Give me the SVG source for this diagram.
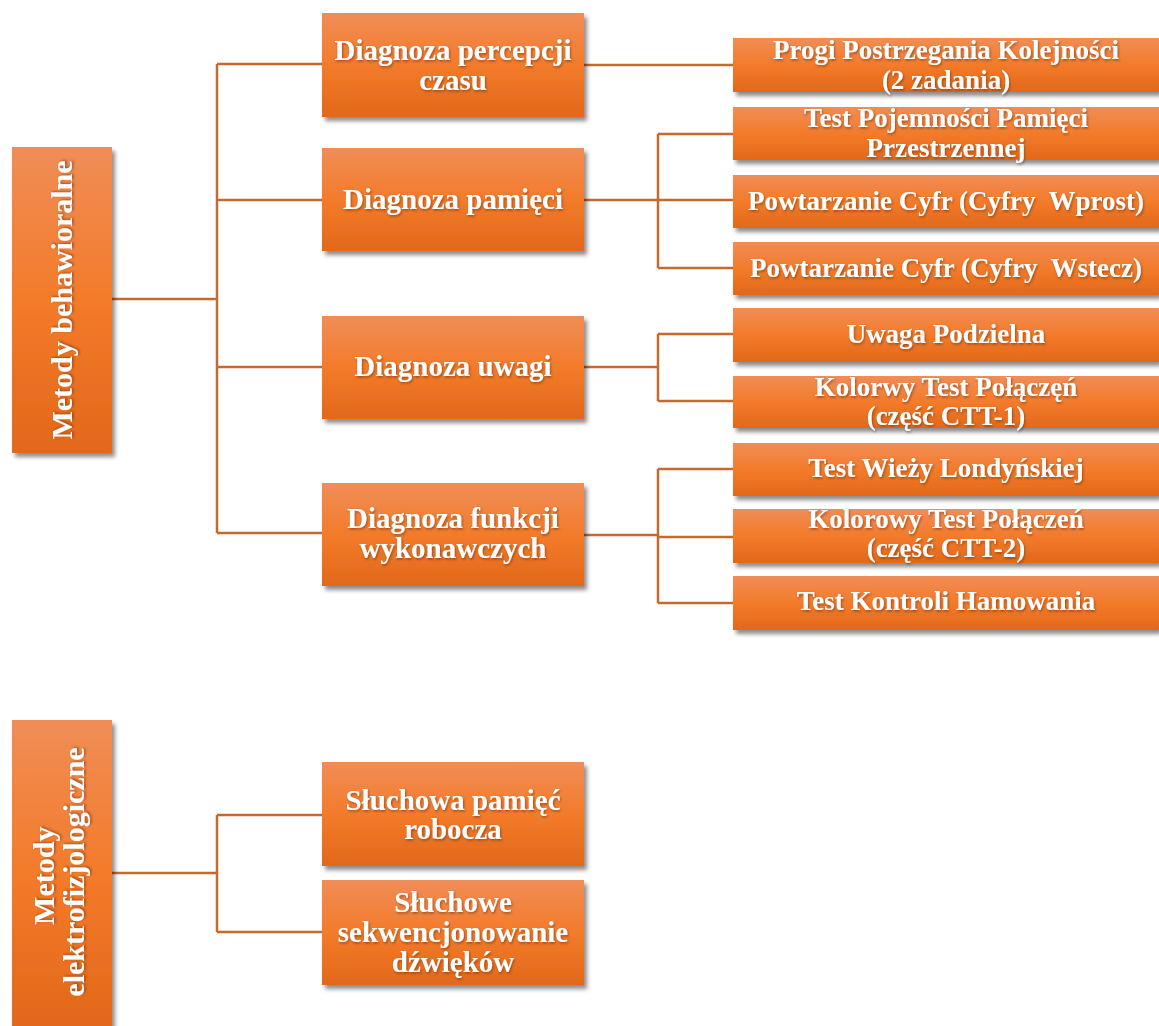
<svg xmlns="http://www.w3.org/2000/svg" width="1159" height="1026" viewBox="0 0 1159 1026">
  <defs>
    <linearGradient id="boxFill" x1="0" y1="0" x2="0" y2="1">
      <stop offset="0" stop-color="#f08d57"/>
      <stop offset="0.5" stop-color="#f37b2a"/>
      <stop offset="1" stop-color="#e2681a"/>
    </linearGradient>
    <filter id="shadow" x="-10%" y="-20%" width="130%" height="150%">
      <feDropShadow dx="3" dy="4" stdDeviation="2.2" flood-color="#000" flood-opacity="0.45"/>
    </filter>
    <filter id="textShadow" x="-5%" y="-20%" width="110%" height="150%">
      <feDropShadow dx="1" dy="1.5" stdDeviation="0.8" flood-color="#5a2a0a" flood-opacity="0.55"/>
    </filter>
  </defs>
  <style>
    .box { fill: url(#boxFill); filter: url(#shadow); }
    .lbl { font-family: "Liberation Serif", "Times New Roman", serif; font-weight: bold; fill: #ffffff; text-anchor: middle; filter: url(#textShadow); }
    .mid { font-size: 29px; }
    .leaf { font-size: 27px; }
    .root { font-size: 30px; }
    .wire { fill: none; stroke: #c5692f; stroke-width: 2.5; }
  </style>
  <rect width="1159" height="1026" fill="#ffffff"/>

  <!-- connectors -->
  <g id="connectors" class="wire">
    <!-- behavioural root to categories -->
    <path d="M112 299 H217"/>
    <path d="M217 64 V533"/>
    <path d="M217 64 H322 M217 200 H322 M217 367 H322 M217 533 H322"/>
    <!-- time perception -->
    <path d="M584 65 H733"/>
    <!-- memory -->
    <path d="M584 200 H733 M658 134 V268 M658 134 H733 M658 268 H733"/>
    <!-- attention -->
    <path d="M584 367 H658 M658 334 V401 M658 334 H733 M658 401 H733"/>
    <!-- executive functions -->
    <path d="M584 535 H658 M658 469 V603 M658 469 H733 M658 537 H733 M658 603 H733"/>
    <!-- electrophysiological root -->
    <path d="M112 873 H217 M217 815 V932 M217 815 H322 M217 932 H322"/>
  </g>

  <!-- roots -->
  <g id="root-behawioralne">
    <rect class="box" x="12" y="147" width="100" height="306"/>
    <text class="lbl root" transform="translate(72 300) rotate(-90)" x="0" y="0">Metody behawioralne</text>
  </g>
  <g id="root-elektrofizjologiczne">
    <rect class="box" x="12" y="720" width="100" height="306"/>
    <text class="lbl root" transform="translate(54 872) rotate(-90)">
      <tspan x="0" y="0">Metody</tspan>
      <tspan x="0" y="30">elektrofizjologiczne</tspan>
    </text>
  </g>

  <!-- categories -->
  <g id="cat-czas">
    <rect class="box" x="322" y="13" width="262" height="104"/>
    <text class="lbl mid"><tspan x="453" y="60">Diagnoza percepcji</tspan><tspan x="453" y="90">czasu</tspan></text>
  </g>
  <g id="cat-pamiec">
    <rect class="box" x="322" y="148" width="262" height="103"/>
    <text class="lbl mid" x="453" y="209">Diagnoza pamięci</text>
  </g>
  <g id="cat-uwaga">
    <rect class="box" x="322" y="316" width="262" height="103"/>
    <text class="lbl mid" x="453" y="376">Diagnoza uwagi</text>
  </g>
  <g id="cat-funkcje">
    <rect class="box" x="322" y="483" width="262" height="103"/>
    <text class="lbl mid"><tspan x="453" y="528">Diagnoza funkcji</tspan><tspan x="453" y="558">wykonawczych</tspan></text>
  </g>
  <g id="cat-sluchowa-pamiec">
    <rect class="box" x="322" y="762" width="262" height="104"/>
    <text class="lbl mid"><tspan x="453" y="810">Słuchowa pamięć</tspan><tspan x="453" y="839">robocza</tspan></text>
  </g>
  <g id="cat-sekwencjonowanie">
    <rect class="box" x="322" y="880" width="262" height="105"/>
    <text class="lbl mid"><tspan x="453" y="912">Słuchowe</tspan><tspan x="453" y="942">sekwencjonowanie</tspan><tspan x="453" y="972">dźwięków</tspan></text>
  </g>

  <!-- tests -->
  <g id="test-progi">
    <rect class="box" x="733" y="38" width="426" height="54"/>
    <text class="lbl leaf"><tspan x="946" y="59">Progi Postrzegania Kolejności</tspan><tspan x="946" y="89">(2 zadania)</tspan></text>
  </g>
  <g id="test-pojemnosc">
    <rect class="box" x="733" y="107" width="426" height="53"/>
    <text class="lbl leaf"><tspan x="946" y="127">Test Pojemności Pamięci</tspan><tspan x="946" y="157">Przestrzennej</tspan></text>
  </g>
  <g id="test-cyfry-wprost">
    <rect class="box" x="733" y="175" width="426" height="53"/>
    <text class="lbl leaf" x="946" y="210" xml:space="preserve">Powtarzanie Cyfr (Cyfry  Wprost)</text>
  </g>
  <g id="test-cyfry-wstecz">
    <rect class="box" x="733" y="242" width="426" height="53"/>
    <text class="lbl leaf" x="946" y="277" xml:space="preserve">Powtarzanie Cyfr (Cyfry  Wstecz)</text>
  </g>
  <g id="test-uwaga-podzielna">
    <rect class="box" x="733" y="308" width="426" height="54"/>
    <text class="lbl leaf" x="946" y="343">Uwaga Podzielna</text>
  </g>
  <g id="test-ctt1">
    <rect class="box" x="733" y="376" width="426" height="52"/>
    <text class="lbl leaf"><tspan x="946" y="396">Kolorwy Test Połączęń</tspan><tspan x="946" y="425">(część CTT-1)</tspan></text>
  </g>
  <g id="test-wieza">
    <rect class="box" x="733" y="443" width="426" height="53"/>
    <text class="lbl leaf" x="946" y="477">Test Wieży Londyńskiej</text>
  </g>
  <g id="test-ctt2">
    <rect class="box" x="733" y="509" width="426" height="54"/>
    <text class="lbl leaf"><tspan x="946" y="528">Kolorowy Test Połączeń</tspan><tspan x="946" y="557">(część CTT-2)</tspan></text>
  </g>
  <g id="test-hamowanie">
    <rect class="box" x="733" y="576" width="426" height="54"/>
    <text class="lbl leaf" x="946" y="610">Test Kontroli Hamowania</text>
  </g>
</svg>
